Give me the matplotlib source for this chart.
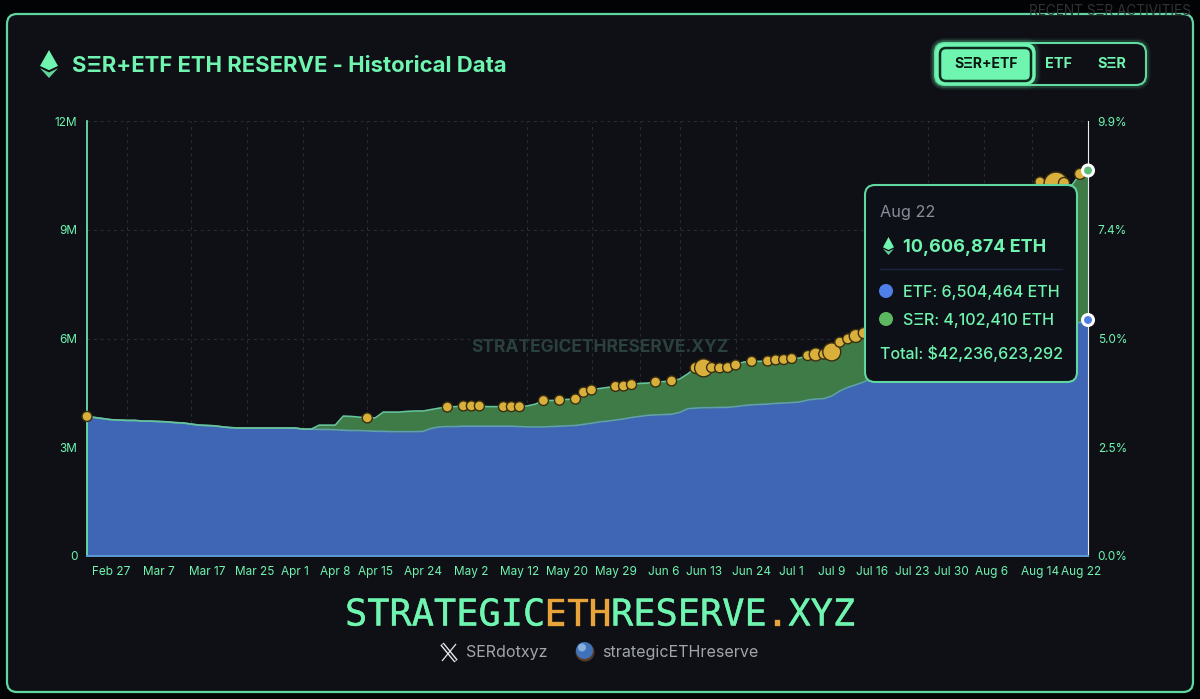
import numpy as np
import pandas as pd
import matplotlib
matplotlib.use("Agg")
import matplotlib.pyplot as plt
import matplotlib.patheffects as pe
from matplotlib.patches import FancyBboxPatch, Polygon, Circle
from matplotlib import transforms

OUTPUT_PNG = "out.png"

# trading days on the x axis (weekdays without US market holidays)
holidays = ["2025-04-18", "2025-05-26", "2025-06-19", "2025-07-04"]
days = pd.bdate_range("2025-02-24", "2025-08-22").drop(pd.to_datetime(holidays))
day_labels = [d.strftime("%b ") + str(d.day) for d in days]

tick_labels = ["Feb 27", "Mar 7", "Mar 17", "Mar 25", "Apr 1", "Apr 8", "Apr 15", "Apr 24",
               "May 2", "May 12", "May 20", "May 29", "Jun 6", "Jun 13", "Jun 24", "Jul 1",
               "Jul 9", "Jul 16", "Jul 23", "Jul 30", "Aug 6", "Aug 14", "Aug 22"]
grid_days = [5, 13, 20, 27, 35, 42, 48, 55, 63, 69, 74, 81, 88, 93, 98, 105, 112, 118]

y_ticks = [0, 3, 6, 9, 12]
y_labels = ["0", "3M", "6M", "9M", "12M"]
pct_labels = ["0.0%", "2.5%", "5.0%", "7.4%", "9.9%"]

# millions of ETH
etf = [3.85, 3.82, 3.79, 3.76, 3.75, 3.74, 3.74, 3.72, 3.72, 3.71,
       3.70, 3.68, 3.67, 3.64, 3.61, 3.60, 3.59, 3.56, 3.54, 3.53,
       3.53, 3.53, 3.53, 3.53, 3.53, 3.53, 3.53, 3.50, 3.50, 3.49,
       3.49, 3.48, 3.47, 3.46, 3.46, 3.45, 3.44, 3.44, 3.43, 3.43,
       3.43, 3.43, 3.44, 3.52, 3.56, 3.57, 3.57, 3.58, 3.58, 3.58,
       3.58, 3.58, 3.58, 3.58, 3.57, 3.56, 3.56, 3.56, 3.57, 3.58,
       3.59, 3.60, 3.63, 3.66, 3.70, 3.72, 3.75, 3.78, 3.82, 3.85,
       3.88, 3.89, 3.90, 3.91, 3.96, 4.06, 4.08, 4.09, 4.09, 4.10,
       4.10, 4.12, 4.15, 4.17, 4.18, 4.19, 4.21, 4.22, 4.23, 4.25,
       4.30, 4.33, 4.34, 4.41, 4.55, 4.65, 4.72, 4.80, 4.91, 5.02,
       5.13, 5.24, 5.35, 5.46, 5.54, 5.63, 5.68, 5.74, 5.79, 5.82,
       5.88, 5.93, 5.99, 6.04, 6.10, 6.15, 6.21, 6.26, 6.29, 6.32,
       6.34, 6.37, 6.40, 6.43, 6.44, 6.504464]
ser = [0] * 29 + [
       0.12, 0.12, 0.13, 0.39, 0.39, 0.37, 0.36, 0.37, 0.53, 0.54,
       0.54, 0.56, 0.57, 0.56, 0.52, 0.52, 0.54, 0.55, 0.56, 0.56,
       0.56, 0.54, 0.54, 0.54, 0.54, 0.55, 0.58, 0.63, 0.73, 0.72,
       0.72, 0.73, 0.73, 0.89, 0.92, 0.92, 0.93, 0.93, 0.91, 0.91,
       0.91, 0.89, 0.91, 0.91, 0.92, 0.92, 0.96, 1.11, 1.10, 1.11,
       1.09, 1.10, 1.15, 1.20, 1.20, 1.19, 1.19, 1.20, 1.20, 1.22,
       1.21, 1.23, 1.23, 1.23, 1.22, 1.35, 1.34, 1.35, 1.35, 1.43,
       1.55, 1.66, 1.74, 1.85, 1.99, 2.13, 2.26, 2.43, 2.54, 2.65,
       2.84, 3.00, 3.17, 3.28, 3.39, 3.50, 3.62, 3.72, 3.81, 3.92,
       4.00, 3.98, 3.89, 3.89, 3.80, 4.10, 4.102410]

# purchase events: trading day number and bubble radius in pixels
event_days = [0, 35, 45, 47, 48, 49, 52, 53, 54, 57, 59, 61, 62, 63, 66, 67, 68, 71, 73,
              76, 77, 78, 79, 80, 81, 83, 85, 86, 87, 88, 90, 91, 92, 93, 94, 95, 96, 97,
              119, 121, 122, 124]
event_radius = [5, 5, 5, 5, 5, 5, 5, 5, 5, 5, 5, 5, 5, 5, 5, 5, 5, 5, 5,
                5.5, 9, 5, 5, 5, 5, 5, 5, 5, 5, 5, 5, 6.5, 5, 9, 5, 5, 6.5, 5.5,
                5, 12, 5.5, 5.5]

MINT = "#6ff5b0"
PANEL = "#0e1015"
BLUE = "#3f65b5"
GREEN = "#3f7b47"
GOLD = "#d9b03c"
FONT = ["Inter", "DejaVu Sans"]
PX = 0.72  # 1 px in points at dpi 100

plt.rcParams["font.family"] = FONT


def rbox(ax, x0, y0, x1, y1, r, **kw):
    p = FancyBboxPatch((x0, y0), x1 - x0, y1 - y0,
                       boxstyle=f"round,pad=0,rounding_size={r}", **kw)
    ax.add_patch(p)
    return p


def eth_icon(ax, cx, top, w, h, color=MINT):
    ax.add_patch(Polygon([(cx, top), (cx + w / 2, top + .57 * h), (cx, top + .72 * h), (cx - w / 2, top + .57 * h)],
                         closed=True, fc=color, ec="none"))
    ax.add_patch(Polygon([(cx - w / 2, top + .65 * h), (cx, top + .80 * h), (cx + w / 2, top + .65 * h), (cx, top + h)],
                         closed=True, fc=color, ec="none", alpha=.85))


def px_axes(fig, z):
    a = fig.add_axes([0, 0, 1, 1], zorder=z)
    a.set_xlim(0, 1200)
    a.set_ylim(699, 0)
    a.axis("off")
    a.patch.set_alpha(0)
    return a


fig = plt.figure(figsize=(12, 6.99), dpi=100, facecolor="#020304")

# background panel
bg = px_axes(fig, 0)
bg.text(1029, 11, "RECENT SΞR ACTIVITIES", color="#303236", fontsize=9.8, va="center")
rbox(bg, 7, 14, 1193, 692, 10, fc=PANEL, ec="#62d6a0", lw=1.6)

# main chart
x = np.arange(len(days))
etf = np.array(etf)
ser = np.array(ser)
total = etf + ser

ax = fig.add_axes([87 / 1200, (699 - 556) / 699, (1088 - 87) / 1200, (556 - 121) / 699], zorder=1)
ax.patch.set_alpha(0)
ax.set_xlim(0, len(days) - 1)
ax.set_ylim(0, 12)

ax.fill_between(x, 0, etf, color=BLUE, lw=0, zorder=2)
ax.fill_between(x, etf, total, color=GREEN, lw=0, zorder=2)
ax.plot(x, etf, color="#5f9fae", lw=1.2, zorder=3)
ax.plot(x, total, color="#66c49a", lw=1.2, zorder=3)

ax.set_yticks(y_ticks)
ax.set_yticklabels(y_labels)
ax.set_xticks([day_labels.index(t) for t in tick_labels])
ax.set_xticklabels(tick_labels)
ax.set_xticks(grid_days, minor=True)
ax.tick_params(axis="both", which="both", length=0)
ax.tick_params(axis="y", colors=MINT, labelsize=8.5, pad=7)
ax.tick_params(axis="x", colors=MINT, labelsize=8.5, pad=7.2)
ax.grid(axis="y", which="major", color="#2a2d33", lw=0.8, ls=(0, (2.5, 3.5)), zorder=1)
ax.grid(axis="x", which="minor", color="#2a2d33", lw=0.8, ls=(0, (2.5, 3.5)), zorder=1)
ax.grid(axis="x", which="major", visible=False)

# last label is pushed inside the plot area
last = ax.get_xticklabels()[-1]
last.set_transform(last.get_transform() + transforms.ScaledTranslation(-7 / 100, 0, fig.dpi_scale_trans))

ax.spines["top"].set_visible(False)
ax.spines["left"].set_color(MINT)
ax.spines["left"].set_linewidth(1.2)
ax.spines["bottom"].set_color("#5b9bd5")
ax.spines["right"].set_color("#e8ecec")
ax.spines["bottom"].set_linewidth(1.4)

sizes = [(2 * r * PX) ** 2 for r in event_radius]
ax.scatter(x[event_days], total[event_days], s=sizes, color=GOLD, edgecolors="#3a2e10",
           linewidths=1.0, zorder=5, clip_on=False)

ax2 = ax.twinx()
ax2.set_zorder(ax.get_zorder() + 1)
ax2.patch.set_alpha(0)
ax2.set_ylim(0, 12)
ax2.set_yticks(y_ticks)
ax2.set_yticklabels(pct_labels)
ax2.tick_params(axis="y", colors=MINT, labelsize=8.5, pad=7, length=0)
for s in ax2.spines.values():
    s.set_visible(False)

# watermark
bg2 = px_axes(fig, 0.5)
bg2.text(599.5, 347.5, "STRATEGICETHRESERVE.XYZ", color="#2a413d", fontsize=12.55, fontweight="bold",
         ha="center", va="center")

# overlay: header, tooltip, footer
top = px_axes(fig, 3)

# hover points on last day
last_x = 87 + 1001
top.add_patch(Circle((last_x, 170.5), 5.5, fc="#5dbb78", ec="white", lw=2.2))
top.add_patch(Circle((last_x, 320), 5.5, fc="#4f7fe0", ec="white", lw=2.2))

# header
eth_icon(top, 49, 50, 18, 28)
top.text(72, 65.5, "SΞR+ETF ETH RESERVE - Historical Data", color=MINT, fontsize=15.9,
         fontweight="bold", va="center")

# mode buttons
for lw, al in [(7, .06), (4.5, .12)]:
    rbox(top, 935, 43, 1146, 85, 10, fc="none", ec=MINT, lw=lw, alpha=al)
rbox(top, 935, 43, 1146, 85, 10, fc=PANEL, ec="#63d9a0", lw=1.5)
for lw, al in [(8, .07), (5, .12)]:
    rbox(top, 936, 44, 1035, 84, 9, fc="none", ec=MINT, lw=lw, alpha=al)
rbox(top, 936, 44, 1035, 84, 9, fc=MINT, ec=MINT, lw=1)
rbox(top, 940, 48, 1031, 81, 6, fc=MINT, ec="#0c2a1d", lw=1.8)
top.text(986, 64.5, "SΞR+ETF", color="#08160f", fontsize=10.1, fontweight="bold", ha="center", va="center")
top.text(1058, 64.5, "ETF", color=MINT, fontsize=10.4, fontweight="bold", ha="center", va="center")
top.text(1112, 64.5, "SΞR", color=MINT, fontsize=10.4, fontweight="bold", ha="center", va="center")

# tooltip
rbox(top, 865, 185, 1077, 382, 10, fc="#0d1016", ec="#62d6a0", lw=1.5)
top.text(880, 212.5, "Aug 22", color="#8a8d99", fontsize=11.7, va="center")
eth_icon(top, 888.5, 237, 11, 18)
top.text(903, 247.5, "10,606,874 ETH", color=MINT, fontsize=13.0, fontweight="bold", va="center")
top.plot([880, 1062], [269, 269], color="#1c2540", lw=1)
top.add_patch(Circle((886, 291), 7, fc="#4f7fe8", ec="none"))
top.add_patch(Circle((886, 319), 7, fc="#5db761", ec="none"))
top.text(903, 292.5, "ETF: 6,504,464 ETH", color=MINT, fontsize=11.55, fontweight="medium", va="center")
top.text(903, 320.5, "SΞR: 4,102,410 ETH", color=MINT, fontsize=11.55, fontweight="medium", va="center")
top.text(880, 353.5, "Total: $42,236,623,292", color=MINT, fontsize=11.55, fontweight="medium", va="center")

# big site name, split by colour
logo_parts = [("STRATEGIC", MINT), ("ETH", "#e8a33a"), ("RESERVE", MINT), (".", "#e8a33a"), ("XYZ", MINT)]
pos = 345.0
for part, col in logo_parts:
    t = top.text(pos, 615, part, color=col, fontsize=26.6, family="DejaVu Sans Mono", va="center", ha="left")
    t.set_path_effects([pe.withStroke(linewidth=0.25, foreground=col)])
    pos += len(part) * 22.17

# footer socials
top.plot([442, 456], [644, 661], color="#e4e6e8", lw=3.2, solid_capstyle="butt")
top.plot([442.5, 455.5], [644.5, 660.5], color=PANEL, lw=1.2, solid_capstyle="butt")
top.plot([456, 442], [644, 661], color="#e4e6e8", lw=0.9, solid_capstyle="butt")
top.text(466, 653, "SERdotxyz", color="#a2a5aa", fontsize=11.55, va="center")
top.add_patch(Circle((585, 652), 9.5, fc="#5a3a24", ec="none"))
top.add_patch(Circle((584.5, 650.5), 8.5, fc="#3f72b8", ec="none"))
top.add_patch(Circle((582, 647.5), 4, fc="#9cc0e4", ec="none", alpha=.8))
top.text(602, 653, "strategicETHreserve", color="#a2a5aa", fontsize=11.55, va="center")

fig.savefig(OUTPUT_PNG, dpi=100, facecolor=fig.get_facecolor())
